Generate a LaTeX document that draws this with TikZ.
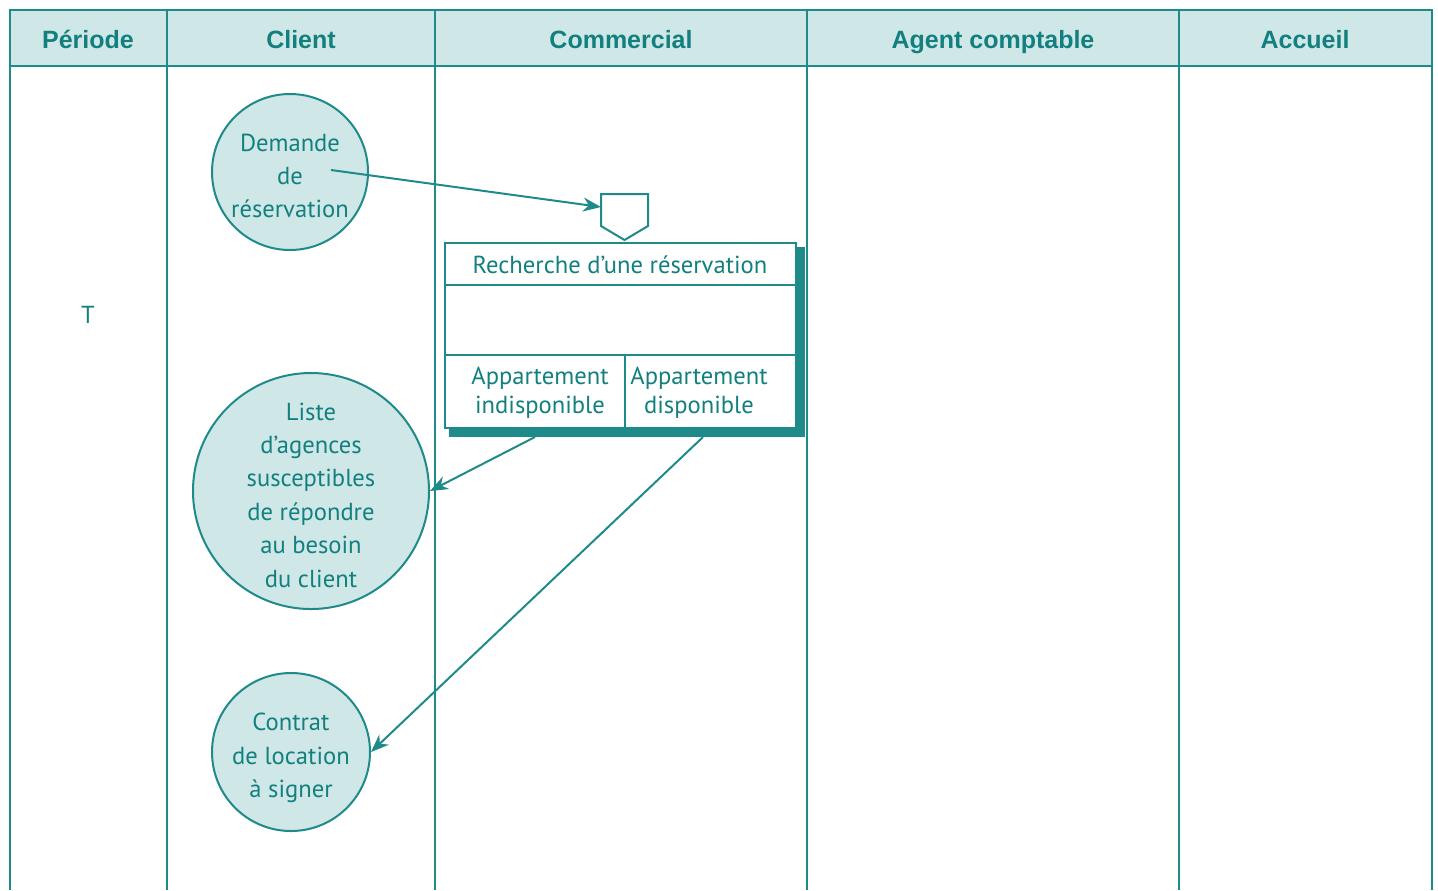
\documentclass[tikz,border=0pt]{standalone}
\usepackage{fontspec}
\setmainfont{PT Sans}
\newfontfamily\headfont{Liberation Sans}
\usetikzlibrary{arrows.meta}
\definecolor{tealline}{HTML}{1E8A8A}
\definecolor{tealfill}{HTML}{CFE7E7}
\definecolor{tealtext}{HTML}{12807F}
\begin{document}
\begin{tikzpicture}[x=0.5pt,y=-0.5pt,line width=1pt,
  grid/.style={draw=tealline},
  head/.style={font=\headfont\bfseries\fontsize{12.5}{15}\selectfont,text=tealtext,anchor=base},
  doc/.style={circle,draw=tealline,fill=tealfill,inner sep=0pt},
  doctext/.style={align=center,text=tealtext,font=\fontsize{12.3}{16.7}\selectfont},
  lbl/.style={text=tealtext,align=center,font=\fontsize{12.3}{14.5}\selectfont},
  flow/.style={draw=tealline,-{Stealth[length=9pt,width=7pt]}}]
\useasboundingbox (0,0) rectangle (1438,890);
% table
\fill[tealfill] (10,10) rectangle (1432,66);
\draw[grid] (10,890) -- (10,10) -- (1432,10) -- (1432,890);
\draw[grid] (10,66) -- (1432,66);
\foreach \x in {167,435,807,1179} \draw[grid] (\x,10) -- (\x,890);
\node[head] (hp) at (88,48) {Période};
\node[head] (hc) at (301,48) {Client};
\node[head] (hm) at (621,48) {Commercial};
\node[head] (ha) at (993,48) {Agent comptable};
\node[head] (hq) at (1305,48) {Accueil};
\node[lbl] (t) at (88,315) {T};
% documents
\node[doc,minimum size=78pt,label={[doctext,yshift=-2pt]center:Demande\\de\\réservation}] (dem) at (290,172) {};
\node[doc,minimum size=118pt,label={[doctext,yshift=-2pt]center:Liste\\d’agences\\susceptibles\\de répondre\\au besoin\\du client}] (liste) at (311,491) {};
\node[doc,minimum size=79pt,label={[doctext,yshift=-3pt]center:Contrat\\de location\\à signer}] (contrat) at (291,752) {};
% process box
\fill[tealline] (449,247) rectangle (805,437);
\node[draw=tealline,fill=white,minimum width=175.5pt,minimum height=92.5pt,inner sep=0pt] (box) at (620.5,335.5) {};
\draw[grid] (445,285) -- (796,285);
\draw[grid] (445,355) -- (796,355);
\draw[grid] (625,355) -- (625,428);
\node[lbl] (title) at (620,265) {Recherche d’une réservation};
\node[lbl] (indisp) at (540,393) {Appartement\\indisponible};
\node[lbl] (disp) at (699,393) {Appartement\\disponible};
% connector
\draw[grid,fill=white] (601,194) -- (648,194) -- (648,226) -- (624.5,240) -- (601,226) -- cycle;
\coordinate (conn) at (601,207);
\coordinate (dstart) at (331,170);
\coordinate (s1) at (535,437);
\coordinate (s2) at (703,437);
\draw[flow] (dstart) -- (conn);
\draw[flow] (s1) -- (liste.east);
\draw[flow] (s2) -- (contrat.east);
\end{tikzpicture}
\end{document}
